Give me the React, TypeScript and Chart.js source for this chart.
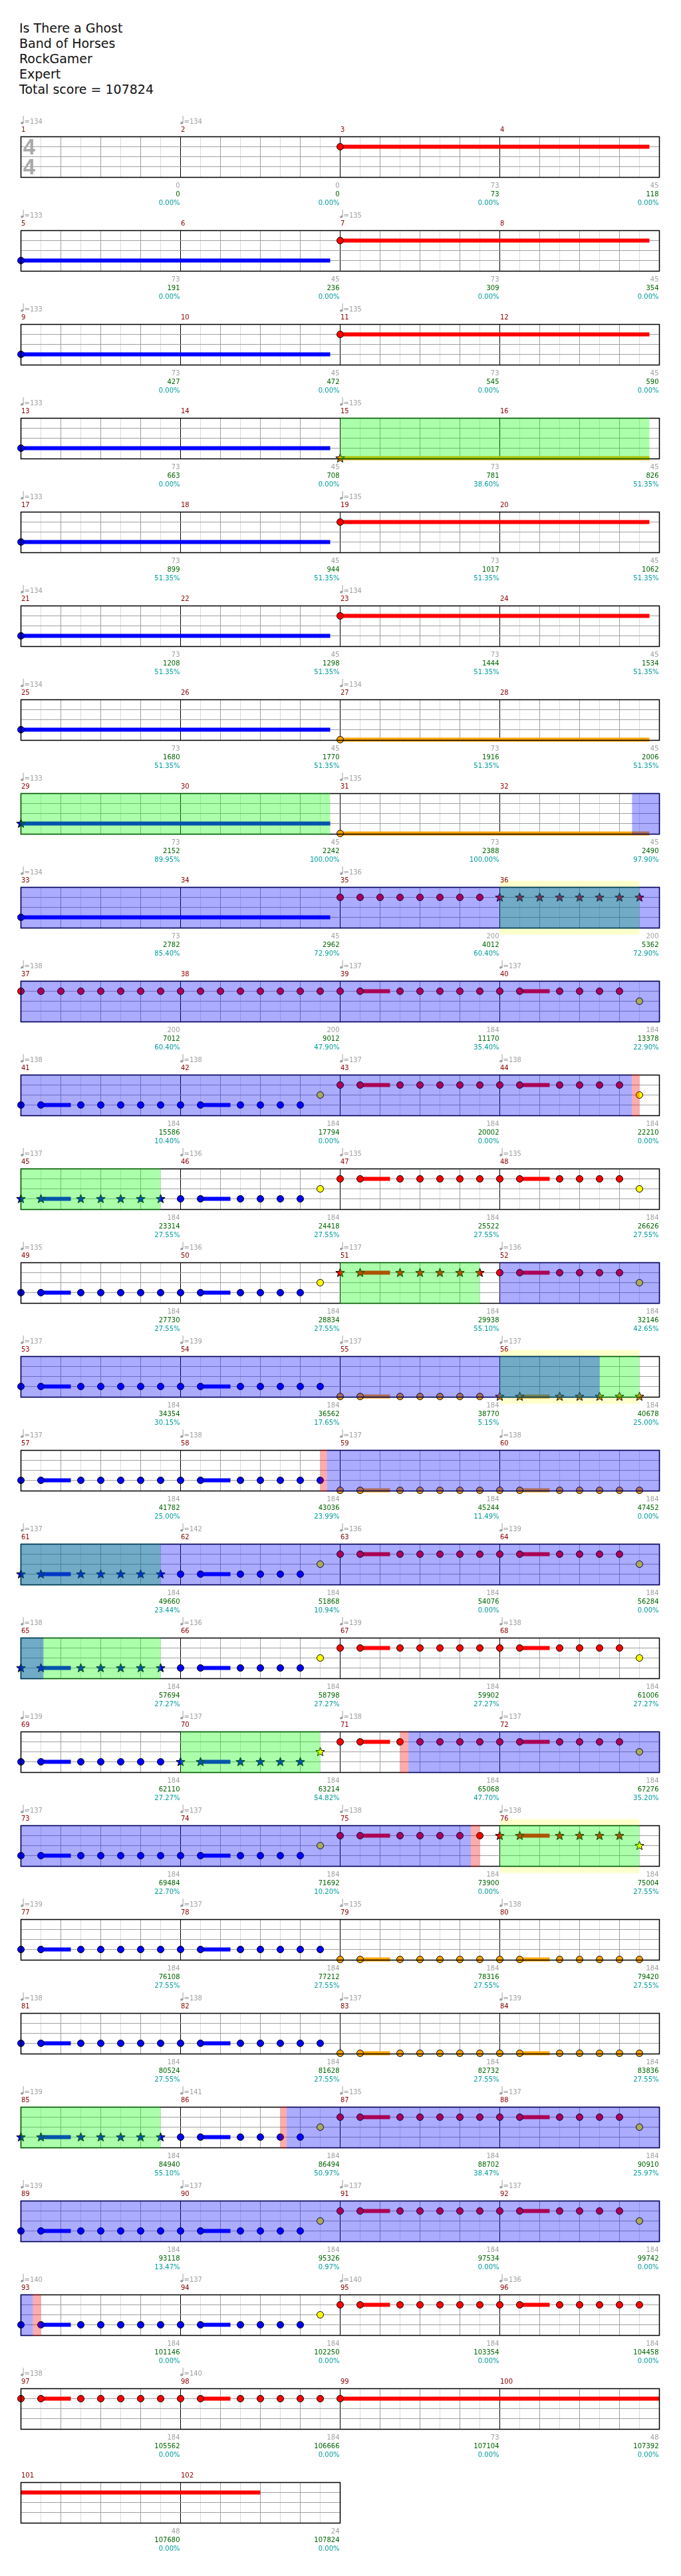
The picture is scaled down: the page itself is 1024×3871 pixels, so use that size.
import React, { useEffect, useRef } from "react";
import { Chart, registerables } from "chart.js";

Chart.register(...registerables);

// ---------------- DATA ----------------
const TITLE_LINES = ["Is There a Ghost", "Band of Horses", "RockGamer", "Expert", "Total score = 107824"];

// base score per measure (gray)
const MEASURE_SCORES = [
  0, 0, 73, 45, // 1-4
  73, 45, 73, 45, // 5-8
  73, 45, 73, 45, // 9-12
  73, 45, 73, 45, // 13-16
  73, 45, 73, 45, // 17-20
  73, 45, 73, 45, // 21-24
  73, 45, 73, 45, // 25-28
  73, 45, 73, 45, // 29-32
  73, 45, 200, 200, // 33-36
  200, 200, 184, 184, // 37-40
  184, 184, 184, 184, // 41-44
  184, 184, 184, 184, // 45-48
  184, 184, 184, 184, // 49-52
  184, 184, 184, 184, // 53-56
  184, 184, 184, 184, // 57-60
  184, 184, 184, 184, // 61-64
  184, 184, 184, 184, // 65-68
  184, 184, 184, 184, // 69-72
  184, 184, 184, 184, // 73-76
  184, 184, 184, 184, // 77-80
  184, 184, 184, 184, // 81-84
  184, 184, 184, 184, // 85-88
  184, 184, 184, 184, // 89-92
  184, 184, 184, 184, // 93-96
  184, 184, 73, 48, // 97-100
  48, 24, // 101-102
];

// running total (green)
const CUMULATIVE_SCORES = [
  0, 0, 73, 118,
  191, 236, 309, 354,
  427, 472, 545, 590,
  663, 708, 781, 826,
  899, 944, 1017, 1062,
  1208, 1298, 1444, 1534,
  1680, 1770, 1916, 2006,
  2152, 2242, 2388, 2490,
  2782, 2962, 4012, 5362,
  7012, 9012, 11170, 13378,
  15586, 17794, 20002, 22210,
  23314, 24418, 25522, 26626,
  27730, 28834, 29938, 32146,
  34354, 36562, 38770, 40678,
  41782, 43036, 45244, 47452,
  49660, 51868, 54076, 56284,
  57694, 58798, 59902, 61006,
  62110, 63214, 65068, 67276,
  69484, 71692, 73900, 75004,
  76108, 77212, 78316, 79420,
  80524, 81628, 82732, 83836,
  84940, 86494, 88702, 90910,
  93118, 95326, 97534, 99742,
  101146, 102250, 103354, 104458,
  105562, 106666, 107104, 107392,
  107680, 107824,
];

// overdrive meter (cyan)
const SP_PERCENT = [
  0, 0, 0, 0,
  0, 0, 0, 0,
  0, 0, 0, 0,
  0, 0, 38.6, 51.35,
  51.35, 51.35, 51.35, 51.35,
  51.35, 51.35, 51.35, 51.35,
  51.35, 51.35, 51.35, 51.35,
  89.95, 100, 100, 97.9,
  85.4, 72.9, 60.4, 72.9,
  60.4, 47.9, 35.4, 22.9,
  10.4, 0, 0, 0,
  27.55, 27.55, 27.55, 27.55,
  27.55, 27.55, 55.1, 42.65,
  30.15, 17.65, 5.15, 25.0,
  25.0, 23.99, 11.49, 0,
  23.44, 10.94, 0, 0,
  27.27, 27.27, 27.27, 27.27,
  27.27, 54.82, 47.7, 35.2,
  22.7, 10.2, 0, 27.55,
  27.55, 27.55, 27.55, 27.55,
  27.55, 27.55, 27.55, 27.55,
  55.1, 50.97, 38.47, 25.97,
  13.47, 0.97, 0, 0,
  0, 0, 0, 0,
  0, 0, 0, 0,
  0, 0,
];

// [measure, bpm]
const TEMPO_MARKS: [number, number][] = [
  [1, 134], [2, 134], [5, 133], [7, 135], [9, 133], [11, 135], [13, 133], [15, 135],
  [17, 133], [19, 135], [21, 134], [23, 134], [25, 134], [27, 134], [29, 133], [31, 135],
  [33, 134], [35, 136], [37, 138], [39, 137], [40, 137], [41, 138], [42, 138], [43, 137],
  [44, 138], [45, 137], [46, 136], [47, 135], [48, 135], [49, 135], [50, 136], [51, 137],
  [52, 136], [53, 137], [54, 139], [55, 137], [56, 137], [57, 137], [58, 138], [59, 137],
  [60, 138], [61, 137], [62, 142], [63, 136], [64, 139], [65, 138], [66, 136], [67, 139],
  [68, 138], [69, 139], [70, 137], [71, 138], [72, 137], [73, 137], [74, 137], [75, 138],
  [76, 138], [77, 139], [78, 137], [79, 135], [80, 138], [81, 138], [82, 138], [83, 137],
  [84, 139], [85, 139], [86, 141], [87, 135], [88, 137], [89, 139], [90, 137], [91, 137],
  [92, 137], [93, 140], [94, 137], [95, 140], [96, 136], [97, 138], [98, 140],
];

// notes per row, one char per eighth note: R Y B O (bass); lowercase = star note
const ROW_NOTES = [
  "........|........|R.......|........",
  "B.......|........|R.......|........",
  "B.......|........|R.......|........",
  "B.......|........|o.......|........",
  "B.......|........|R.......|........",
  "B.......|........|R.......|........",
  "B.......|........|O.......|........",
  "b.......|........|O.......|........",
  "B.......|........|RRRRRRRR|rrrrrrrr",
  "RRRRRRRR|RRRRRRRR|RR.RRRRR|RR.RRRRY",
  "BB.BBBBB|BB.BBBBY|RR.RRRRR|RR.RRRRY",
  "bb.bbbbb|BB.BBBBY|RR.RRRRR|RR.RRRRY",
  "BB.BBBBB|BB.BBBBY|rr.rrrrr|RR.RRRRY",
  "BB.BBBBB|BB.BBBBB|OO.OOOOO|oo.ooooo",
  "BB.BBBBB|BB.BBBBB|OO.OOOOO|OO.OOOOO",
  "bb.bbbbb|BB.BBBBY|RR.RRRRR|RR.RRRRY",
  "bb.bbbbb|BB.BBBBY|RR.RRRRR|RR.RRRRY",
  "BB.BBBBB|bb.bbbby|RR.RRRRR|RR.RRRRY",
  "BB.BBBBB|BB.BBBBY|RR.RRRRR|rr.rrrry",
  "BB.BBBBB|BB.BBBBB|OO.OOOOO|OO.OOOOO",
  "BB.BBBBB|BB.BBBBB|OO.OOOOO|OO.OOOOO",
  "bb.bbbbb|BB.BBBBY|RR.RRRRR|RR.RRRRY",
  "BB.BBBBB|BB.BBBBY|RR.RRRRR|RR.RRRRY",
  "BB.BBBBB|BB.BBBBY|RR.RRRRR|RR.RRRRR",
  "RR.RRRRR|RR.RRRRR|R.......|........",
  "........|........",
];

// sustains per row: [lane, start eighth, end eighth]
const ROW_SUSTAINS: [string, number, number][][] = [
  [["R", 16, 31.5]],
  [["B", 0, 15.5], ["R", 16, 31.5]],
  [["B", 0, 15.5], ["R", 16, 31.5]],
  [["B", 0, 15.5], ["O", 16, 31.5]],
  [["B", 0, 15.5], ["R", 16, 31.5]],
  [["B", 0, 15.5], ["R", 16, 31.5]],
  [["B", 0, 15.5], ["O", 16, 31.5]],
  [["B", 0, 15.5], ["O", 16, 31.5]],
  [["B", 0, 15.5]],
  [["R", 17, 18.5], ["R", 25, 26.5]],
  [["B", 1, 2.5], ["B", 9, 10.5], ["R", 17, 18.5], ["R", 25, 26.5]],
  [["B", 1, 2.5], ["B", 9, 10.5], ["R", 17, 18.5], ["R", 25, 26.5]],
  [["B", 1, 2.5], ["B", 9, 10.5], ["R", 17, 18.5], ["R", 25, 26.5]],
  [["B", 1, 2.5], ["B", 9, 10.5], ["O", 17, 18.5], ["O", 25, 26.5]],
  [["B", 1, 2.5], ["B", 9, 10.5], ["O", 17, 18.5], ["O", 25, 26.5]],
  [["B", 1, 2.5], ["B", 9, 10.5], ["R", 17, 18.5], ["R", 25, 26.5]],
  [["B", 1, 2.5], ["B", 9, 10.5], ["R", 17, 18.5], ["R", 25, 26.5]],
  [["B", 1, 2.5], ["B", 9, 10.5], ["R", 17, 18.5], ["R", 25, 26.5]],
  [["B", 1, 2.5], ["B", 9, 10.5], ["R", 17, 18.5], ["R", 25, 26.5]],
  [["B", 1, 2.5], ["B", 9, 10.5], ["O", 17, 18.5], ["O", 25, 26.5]],
  [["B", 1, 2.5], ["B", 9, 10.5], ["O", 17, 18.5], ["O", 25, 26.5]],
  [["B", 1, 2.5], ["B", 9, 10.5], ["R", 17, 18.5], ["R", 25, 26.5]],
  [["B", 1, 2.5], ["B", 9, 10.5], ["R", 17, 18.5], ["R", 25, 26.5]],
  [["B", 1, 2.5], ["B", 9, 10.5], ["R", 17, 18.5], ["R", 25, 26.5]],
  [["R", 1, 2.5], ["R", 9, 10.5], ["R", 16, 32]],
  [["R", 0, 12]],
];

// shaded regions per row: y = fill marker, g = phrase, b = activation, p = squeeze
const ROW_REGIONS: [string, number, number][][] = [
  [], [], [],
  [["g", 16, 31.5]],
  [], [], [],
  [["g", 0, 15.5], ["b", 30.63, 32]],
  [["y", 24, 31], ["g", 24, 31], ["b", 0, 32]],
  [["b", 0, 32]],
  [["b", 0, 30.63], ["p", 30.63, 31]],
  [["g", 0, 7]],
  [["g", 16, 23], ["b", 24, 32]],
  [["y", 24, 31], ["g", 24, 31], ["b", 0, 29]],
  [["p", 15, 15.33], ["b", 15.33, 32]],
  [["g", 0, 7], ["b", 0, 32]],
  [["g", 0, 7], ["b", 0, 1.13]],
  [["g", 8, 15], ["p", 19, 19.42], ["b", 19.42, 32]],
  [["b", 0, 22.55], ["p", 22.55, 23], ["y", 24, 31], ["g", 24, 31]],
  [], [],
  [["g", 0, 7], ["p", 13, 13.32], ["b", 13.32, 32]],
  [["b", 0, 32]],
  [["b", 0, 0.6], ["p", 0.6, 1]],
  [], [],
];

// ---------------- STYLE ----------------
const ROW_PITCH = 141;
const FIRST_TOP = 165;
const CANVAS_H = 160;
const PAD_TOP = 40.5;
const BOX_H = 60;
const PAD_LEFT = 31.5;
const EIGHTH_PX = 30;

const LANE_Y: Record<string, number> = { R: 1, Y: 2, B: 3, O: 4 };
const NOTE_COLORS: Record<string, string> = { R: "#ff0000", Y: "#ffff00", B: "#0000ff", O: "#ffa500" };
const OVERLAY_COLORS: Record<string, string> = {
  g: "rgba(0,255,0,0.33)",
  b: "rgba(0,0,255,0.33)",
  p: "rgba(255,0,0,0.33)",
};

const starCache: Record<string, HTMLCanvasElement> = {};
function starImage(color: string): HTMLCanvasElement {
  if (starCache[color]) return starCache[color];
  const c = document.createElement("canvas");
  c.width = 15;
  c.height = 15;
  const g = c.getContext("2d")!;
  g.beginPath();
  for (let k = 0; k < 10; k++) {
    const rad = k % 2 === 0 ? 7 : 3;
    const a = -Math.PI / 2 + (k * Math.PI) / 5;
    const px = 7.5 + rad * Math.cos(a);
    const py = 7.8 + rad * Math.sin(a);
    if (k === 0) g.moveTo(px, py);
    else g.lineTo(px, py);
  }
  g.closePath();
  g.fillStyle = color;
  g.fill();
  g.lineWidth = 1;
  g.strokeStyle = "#000";
  g.stroke();
  starCache[color] = c;
  return c;
}

function fmt(v: number | undefined): string {
  return v === undefined ? "" : String(v);
}

const rowPlugin = {
  id: "drumRow",
  beforeDatasetsDraw(chart: any, _args: any, opts: any) {
    const r: number = opts.row;
    const xMax: number = opts.xMax;
    const { ctx, chartArea: a, scales } = chart;
    const x = scales.x;
    const y = scales.y;
    ctx.save();
    for (const [t, s, e] of ROW_REGIONS[r] || []) {
      if (t !== "y") continue;
      const x1 = x.getPixelForValue(s);
      const x2 = x.getPixelForValue(e);
      ctx.fillStyle = "#ffffcc";
      ctx.fillRect(x1, a.top - 10, x2 - x1, a.bottom - a.top + 21);
    }
    ctx.fillStyle = "#ffffff";
    ctx.fillRect(a.left, a.top, a.right - a.left, a.bottom - a.top + 1);
    ctx.lineWidth = 1;
    for (let i = 1; i < xMax; i++) {
      const px = x.getPixelForValue(i);
      ctx.strokeStyle = i % 8 === 0 ? "#000000" : i % 2 === 0 ? "#a0a0a0" : "#dcdcdc";
      ctx.beginPath();
      ctx.moveTo(px, a.top);
      ctx.lineTo(px, a.bottom + 1);
      ctx.stroke();
    }
    ctx.strokeStyle = "#a0a0a0";
    for (let l = 1; l <= 3; l++) {
      const py = y.getPixelForValue(l);
      ctx.beginPath();
      ctx.moveTo(a.left, py);
      ctx.lineTo(a.right, py);
      ctx.stroke();
    }
    if (r === 0) {
      ctx.fillStyle = "#a9a9a9";
      ctx.font = 'bold 33px "Liberation Sans"';
      ctx.textAlign = "center";
      ctx.textBaseline = "alphabetic";
      ctx.fillText("4", a.left + 12.5, a.top + 26.5);
      ctx.fillText("4", a.left + 12.5, a.top + 56.5);
    }
    ctx.restore();
  },
  afterDatasetsDraw(chart: any, _args: any, opts: any) {
    const r: number = opts.row;
    const xMax: number = opts.xMax;
    const first = r * 4;
    const { ctx, chartArea: a, scales } = chart;
    const x = scales.x;
    ctx.save();
    ctx.strokeStyle = "#000";
    ctx.lineWidth = 1.5;
    ctx.strokeRect(a.left, a.top, a.right - a.left, a.bottom + 1 - a.top);
    for (const t of ["g", "b", "p"]) {
      for (const [tt, s, e] of ROW_REGIONS[r] || []) {
        if (tt !== t) continue;
        let x1 = x.getPixelForValue(s);
        let x2 = x.getPixelForValue(e);
        if (s <= 0) x1 -= 1;
        if (e >= xMax) x2 += 1;
        ctx.fillStyle = OVERLAY_COLORS[t];
        ctx.fillRect(x1, a.top - 1, x2 - x1, a.bottom - a.top + 3);
      }
    }
    ctx.textBaseline = "alphabetic";
    ctx.font = '10px "DejaVu Sans"';
    for (const [m, bpm] of TEMPO_MARKS) {
      const idx = m - 1 - first;
      if (idx < 0 || idx * 8 >= xMax) continue;
      const px = x.getPixelForValue(idx * 8);
      ctx.fillStyle = "#a0a0a0";
      ctx.strokeStyle = "#a0a0a0";
      ctx.beginPath();
      ctx.ellipse(px + 1.8, a.top - 20.8, 2.3, 1.8, -0.3, 0, Math.PI * 2);
      ctx.fill();
      ctx.lineWidth = 1;
      ctx.beginPath();
      ctx.moveTo(px + 3.6, a.top - 31.5);
      ctx.lineTo(px + 3.6, a.top - 21);
      ctx.stroke();
      ctx.textAlign = "left";
      ctx.fillText("=" + bpm, px + 5, a.top - 19.8);
    }
    const count = Math.round(xMax / 8);
    for (let j = 0; j < count; j++) {
      const m = first + j;
      const ps = x.getPixelForValue(j * 8);
      const pe = x.getPixelForValue((j + 1) * 8);
      ctx.textAlign = "left";
      ctx.fillStyle = "#8b0000";
      ctx.fillText(String(m + 1), ps + 0.5, a.top - 7.2);
      ctx.textAlign = "right";
      ctx.fillStyle = "#a0a0a0";
      ctx.fillText(fmt(MEASURE_SCORES[m]), pe - 1, a.top + 76.3);
      ctx.fillStyle = "#006400";
      ctx.fillText(fmt(CUMULATIVE_SCORES[m]), pe - 1, a.top + 89.6);
      ctx.fillStyle = "#009b9b";
      const p = SP_PERCENT[m];
      ctx.fillText(p === undefined ? "" : p.toFixed(2) + "%", pe - 1, a.top + 102.8);
    }
    ctx.restore();
  },
};

function buildConfig(r: number): any {
  const notes = ROW_NOTES[r].replace(/\|/g, "");
  const xMax = notes.length;
  const datasets: any[] = [];
  for (const lane of ["R", "Y", "B", "O"]) {
    const circles: { x: number; y: number }[] = [];
    const stars: { x: number; y: number }[] = [];
    for (let i = 0; i < notes.length; i++) {
      if (notes[i] === lane) circles.push({ x: i, y: LANE_Y[lane] });
      else if (notes[i] === lane.toLowerCase()) stars.push({ x: i, y: LANE_Y[lane] });
    }
    if (circles.length)
      datasets.push({
        data: circles,
        pointStyle: "circle",
        pointRadius: 5,
        pointBackgroundColor: NOTE_COLORS[lane],
        pointBorderColor: "#000",
        pointBorderWidth: 1,
        showLine: false,
        clip: false,
        order: 0,
      });
    if (stars.length)
      datasets.push({
        data: stars,
        pointStyle: starImage(NOTE_COLORS[lane]),
        pointRadius: 7,
        showLine: false,
        clip: false,
        order: 0,
      });
  }
  for (const [lane, s, e] of ROW_SUSTAINS[r] || []) {
    datasets.push({
      data: [
        { x: s, y: LANE_Y[lane] },
        { x: e, y: LANE_Y[lane] },
      ],
      showLine: true,
      borderColor: NOTE_COLORS[lane],
      borderWidth: 6,
      borderCapStyle: "butt",
      pointRadius: 0,
      pointHoverRadius: 0,
      tension: 0,
      clip: false,
      order: 1,
    });
  }
  const right = PAD_LEFT + xMax * EIGHTH_PX;
  return {
    type: "scatter",
    data: { datasets },
    options: {
      animation: false,
      responsive: false,
      maintainAspectRatio: false,
      devicePixelRatio: 1,
      events: [],
      layout: {
        padding: { left: PAD_LEFT, right: 1024 - right, top: PAD_TOP, bottom: CANVAS_H - PAD_TOP - BOX_H },
      },
      plugins: {
        legend: { display: false },
        tooltip: { enabled: false },
        drumRow: { row: r, xMax },
      },
      scales: {
        x: { type: "linear", min: 0, max: xMax, display: false },
        y: { type: "linear", min: 0, max: 4, reverse: true, display: false },
      },
    },
    plugins: [rowPlugin],
  };
}

function Row({ index }: { index: number }) {
  const ref = useRef<HTMLCanvasElement>(null);
  useEffect(() => {
    let chart: Chart | null = null;
    try {
      chart = new Chart(ref.current as HTMLCanvasElement, buildConfig(index));
    } catch (e) {
      console.error(e);
    }
    return () => {
      if (chart) chart.destroy();
    };
  }, [index]);
  return (
    <canvas
      ref={ref}
      width={1024}
      height={CANVAS_H}
      style={{
        position: "absolute",
        left: 0,
        top: FIRST_TOP + ROW_PITCH * index,
        width: 1024,
        height: CANVAS_H,
      }}
    />
  );
}

export default function App() {
  return (
    <div
      style={{
        position: "absolute",
        left: 0,
        top: 0,
        width: 1024,
        height: 3871,
        background: "#ffffff",
        overflow: "hidden",
      }}
    >
      <div
        style={{
          position: "absolute",
          left: 29,
          top: 31,
          font: '19px "DejaVu Sans"',
          lineHeight: "23px",
          color: "#111",
          whiteSpace: "pre",
        }}
      >
        {TITLE_LINES.map((l) => (
          <div key={l}>{l}</div>
        ))}
      </div>
      {ROW_NOTES.map((_, i) => (
        <Row key={i} index={i} />
      ))}
    </div>
  );
}
